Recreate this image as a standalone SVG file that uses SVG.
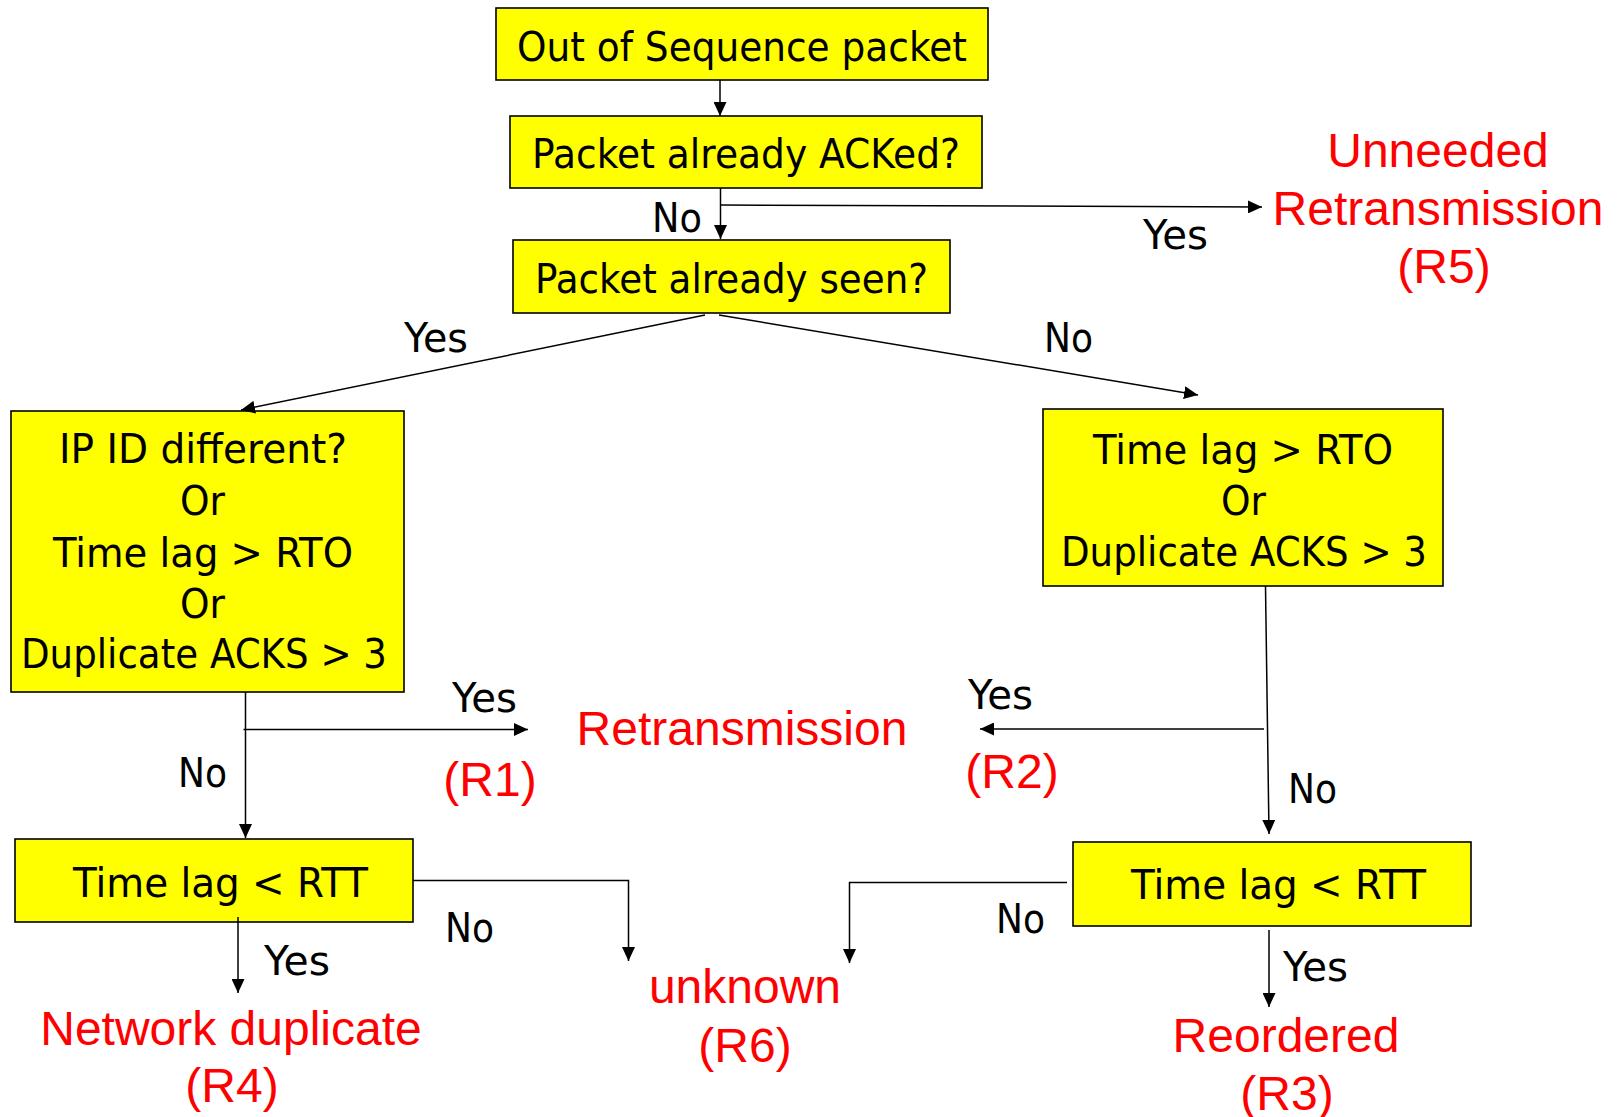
<svg xmlns="http://www.w3.org/2000/svg" width="1620" height="1117" viewBox="0 0 1620 1117">
  <style>
    .box { fill: #ffff00; stroke: #000; stroke-width: 1.6; }
    .t { font-family: "DejaVu Sans", Verdana, sans-serif; font-size: 41px; fill: #000; }
    .res { font-family: "Liberation Sans", Arial, sans-serif; font-size: 48px; fill: #ff0000; text-anchor: middle; }
    .edge { fill: none; stroke: #000; stroke-width: 1.5; marker-end: url(#arrow); }
  </style>
  <defs>
    <marker id="arrow" markerUnits="userSpaceOnUse" markerWidth="14" markerHeight="13" refX="14" refY="6.5" orient="auto">
      <path d="M0,0 L14,6.5 L0,13 Z" fill="#000"/>
    </marker>
  </defs>

  <rect width="1620" height="1117" fill="#fff"/>

  <!-- decision boxes -->
  <g id="out-of-sequence">
    <rect class="box" x="496" y="8" width="492" height="72"/>
    <text class="t" x="517" y="61" textLength="450" lengthAdjust="spacingAndGlyphs">Out of Sequence packet</text>
  </g>
  <g id="already-acked">
    <rect class="box" x="510" y="116" width="472" height="72"/>
    <text class="t" x="532" y="168" textLength="428" lengthAdjust="spacingAndGlyphs">Packet already ACKed?</text>
  </g>
  <g id="already-seen">
    <rect class="box" x="513" y="240" width="437" height="73"/>
    <text class="t" x="535" y="293" textLength="393" lengthAdjust="spacingAndGlyphs">Packet already seen?</text>
  </g>
  <g id="seen-checks">
    <rect class="box" x="11" y="411" width="393" height="281"/>
    <text class="t" x="59" y="463" textLength="288" lengthAdjust="spacingAndGlyphs">IP ID different?</text>
    <text class="t" x="180" y="515" textLength="45" lengthAdjust="spacingAndGlyphs">Or</text>
    <text class="t" x="53" y="567" textLength="300" lengthAdjust="spacingAndGlyphs">Time lag &gt; RTO</text>
    <text class="t" x="180" y="618" textLength="45" lengthAdjust="spacingAndGlyphs">Or</text>
    <text class="t" x="21" y="668" textLength="366" lengthAdjust="spacingAndGlyphs">Duplicate ACKS &gt; 3</text>
  </g>
  <g id="unseen-checks">
    <rect class="box" x="1043" y="409" width="400" height="177"/>
    <text class="t" x="1093" y="464" textLength="300" lengthAdjust="spacingAndGlyphs">Time lag &gt; RTO</text>
    <text class="t" x="1221" y="515" textLength="45" lengthAdjust="spacingAndGlyphs">Or</text>
    <text class="t" x="1061" y="566" textLength="366" lengthAdjust="spacingAndGlyphs">Duplicate ACKS &gt; 3</text>
  </g>
  <g id="rtt-left">
    <rect class="box" x="15" y="839" width="398" height="83"/>
    <text class="t" x="73" y="897" textLength="295" lengthAdjust="spacingAndGlyphs">Time lag &lt; RTT</text>
  </g>
  <g id="rtt-right">
    <rect class="box" x="1073" y="842" width="398" height="84"/>
    <text class="t" x="1131" y="899" textLength="295" lengthAdjust="spacingAndGlyphs">Time lag &lt; RTT</text>
  </g>

  <!-- outcomes -->
  <g id="r5">
    <text class="res" x="1438" y="167">Unneeded</text>
    <text class="res" x="1438" y="225">Retransmission</text>
    <text class="res" x="1444" y="283">(R5)</text>
  </g>
  <g id="retransmission">
    <text class="res" x="742" y="745">Retransmission</text>
  </g>
  <g id="r1">
    <text class="res" x="490" y="796">(R1)</text>
  </g>
  <g id="r2">
    <text class="res" x="1012" y="788">(R2)</text>
  </g>
  <g id="r4">
    <text class="res" x="231" y="1045">Network duplicate</text>
    <text class="res" x="232" y="1102">(R4)</text>
  </g>
  <g id="r6">
    <text class="res" x="745" y="1003">unknown</text>
    <text class="res" x="745" y="1062">(R6)</text>
  </g>
  <g id="r3">
    <text class="res" x="1286" y="1052">Reordered</text>
    <text class="res" x="1287" y="1110">(R3)</text>
  </g>

  <!-- connectors -->
  <g id="connectors">
    <path class="edge" d="M720,80 L720,116"/>
    <path class="edge" d="M720.5,188 L720.5,239"/>
    <path class="edge" d="M720,205 L1262,207"/>
    <path class="edge" d="M705,315 L241,410"/>
    <path class="edge" d="M719,315 L1198,395"/>
    <path class="edge" d="M245.5,692 L245.5,838"/>
    <path class="edge" d="M243.5,729.5 L528,729.5"/>
    <path class="edge" d="M413,880.5 L628.5,880.5 L628.5,961"/>
    <path class="edge" d="M238,917 L238,993"/>
    <path class="edge" d="M1265.5,586 L1269,834"/>
    <path class="edge" d="M1264,729 L980,729"/>
    <path class="edge" d="M1067,882.5 L849.5,882.5 L849.5,963"/>
    <path class="edge" d="M1269,930 L1269,1007"/>

    <text class="t" x="652" y="232" textLength="50" lengthAdjust="spacingAndGlyphs">No</text>
    <text class="t" x="1143" y="249" textLength="65" lengthAdjust="spacingAndGlyphs">Yes</text>
    <text class="t" x="404" y="352" textLength="64" lengthAdjust="spacingAndGlyphs">Yes</text>
    <text class="t" x="1044" y="352" textLength="49" lengthAdjust="spacingAndGlyphs">No</text>
    <text class="t" x="452" y="712" textLength="65" lengthAdjust="spacingAndGlyphs">Yes</text>
    <text class="t" x="178" y="787" textLength="49" lengthAdjust="spacingAndGlyphs">No</text>
    <text class="t" x="968" y="709" textLength="65" lengthAdjust="spacingAndGlyphs">Yes</text>
    <text class="t" x="1288" y="803" textLength="49" lengthAdjust="spacingAndGlyphs">No</text>
    <text class="t" x="264" y="975" textLength="66" lengthAdjust="spacingAndGlyphs">Yes</text>
    <text class="t" x="445" y="942" textLength="49" lengthAdjust="spacingAndGlyphs">No</text>
    <text class="t" x="996" y="933" textLength="49" lengthAdjust="spacingAndGlyphs">No</text>
    <text class="t" x="1283" y="981" textLength="65" lengthAdjust="spacingAndGlyphs">Yes</text>
  </g>
</svg>
